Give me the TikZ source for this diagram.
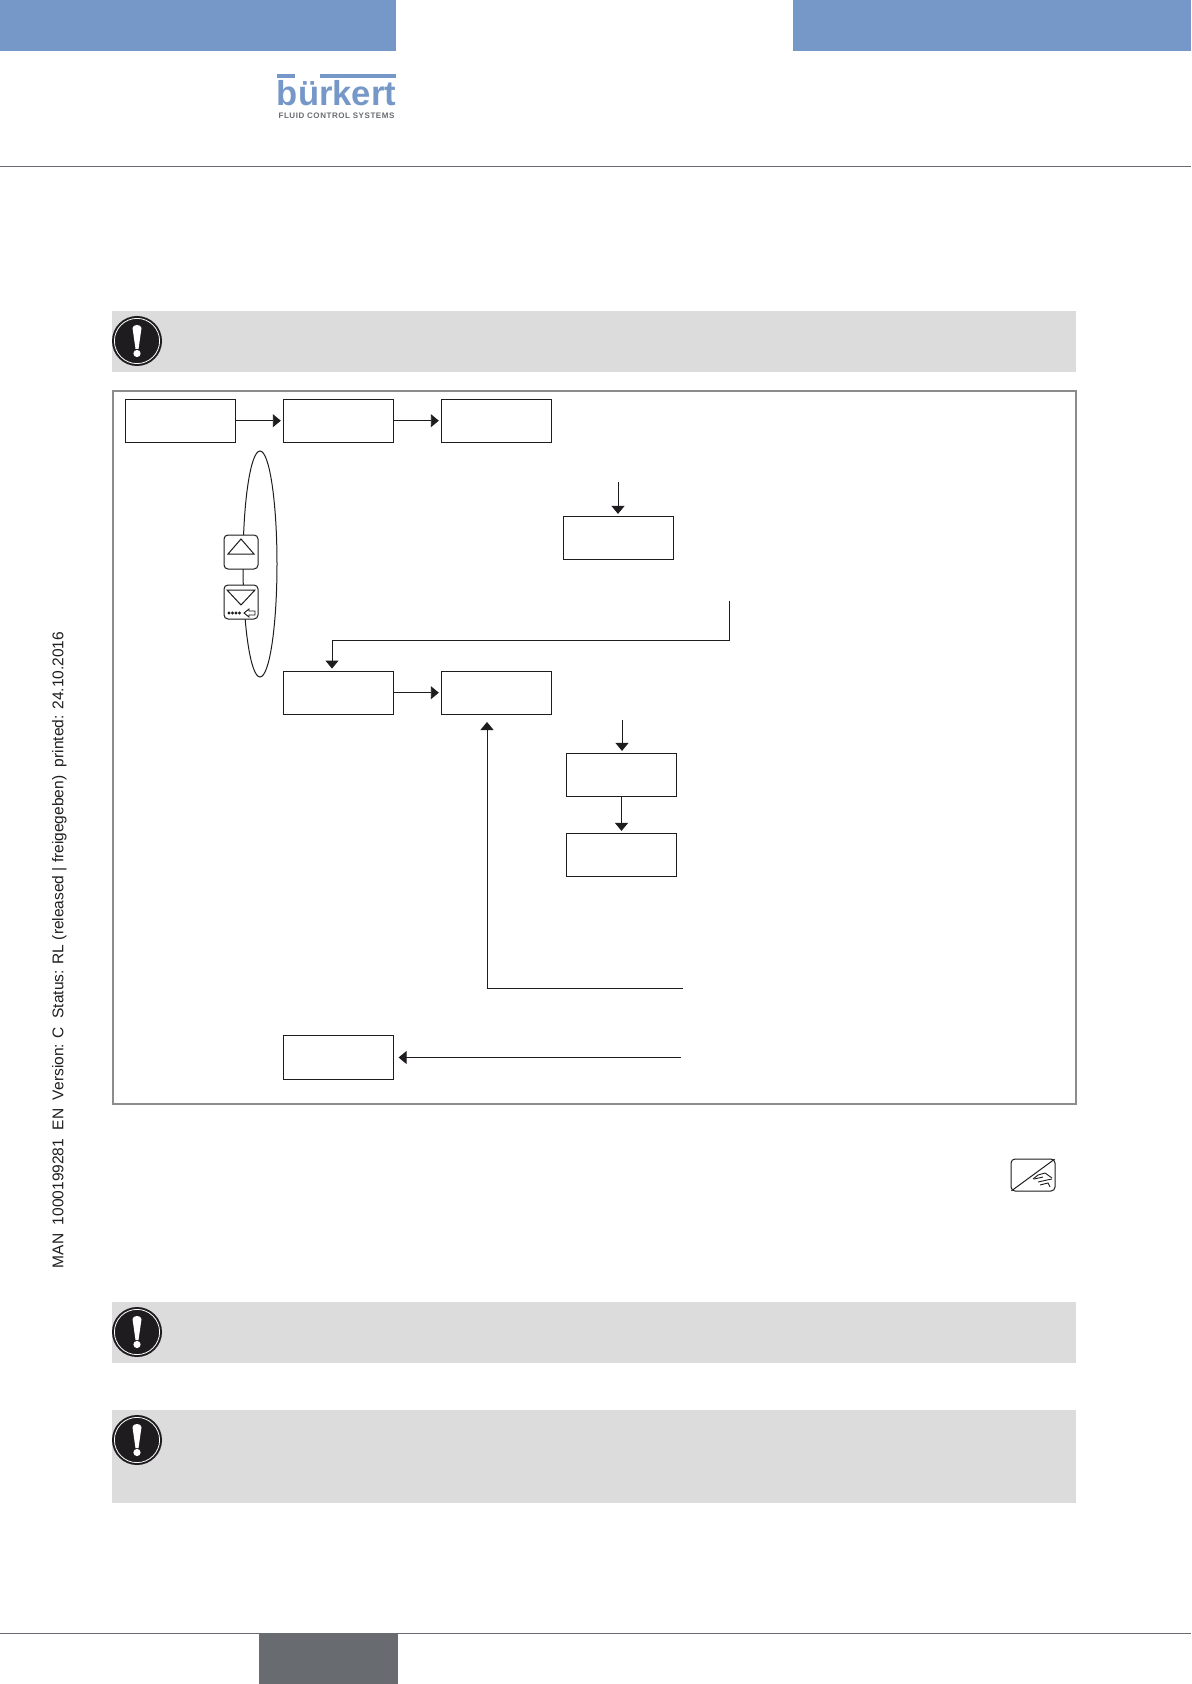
\documentclass[tikz,border=0pt]{standalone}
\usepackage{fontspec}
\setmainfont{Liberation Sans}
\usetikzlibrary{shapes.geometric, arrows.meta, positioning, calc}
\definecolor{Banner}{RGB}{118, 152, 200}
\definecolor{Slate}{RGB}{104, 107, 112}
\definecolor{Notice}{RGB}{220, 220, 220}
\definecolor{Frame}{RGB}{140, 140, 140}
\definecolor{Ink}{RGB}{30, 28, 30}
\tikzstyle{menubox} = [rectangle, minimum width=55pt, minimum height=21.7pt, inner sep=0pt, draw=Ink, fill=white, line width=0.4pt]
\tikzstyle{keybox} = [rectangle, rounded corners=2pt, minimum width=17pt, minimum height=17pt, inner sep=0pt, draw=Ink, fill=white, line width=0.5pt]
\tikzstyle{arrow} = [-{Triangle[length=4pt, width=6.5pt]}, line width=0.45pt, Ink, shorten >=1pt]
\tikzstyle{noticebar} = [fill=Notice, draw=none]

\begin{document}
\begin{tikzpicture}[x=0.5pt, y=-0.5pt, node distance=79pt]
\useasboundingbox (0,0) rectangle (1191,1684);

% Page header and footer
\fill[Banner] (0,0) rectangle (396,51);
\fill[Banner] (793,0) rectangle (1191,51);
\draw[Slate, line width=0.5pt] (0,167) -- (1191,167);
\draw[Slate, line width=0.5pt] (0,1633) -- (1191,1633);
\fill[Slate] (259,1633) rectangle (398,1684);

% Logo
\fill[Banner] (277,74) rectangle (295,78);
\fill[Banner] (320,74) rectangle (396,78);
\node (logoname) [Banner, font=\bfseries\fontsize{17.3}{18}\selectfont, inner sep=0pt, anchor=base] at (336.5,106) {bürkert};
\node (logotag) [Slate, font=\bfseries\fontsize{4}{4.2}\selectfont\addfontfeature{LetterSpace=7}, inner sep=0pt, anchor=base] at (336.5,118.5) {FLUID CONTROL SYSTEMS};

% Margin line
\node (margin) [rotate=90, anchor=center, inner sep=0pt, font=\fontsize{7.76}{9}\selectfont, text=Ink] at (59.5,950) {MAN\ \ 1000199281\ \ EN\ \ Version: C\ \ Status: RL (released | freigegeben)\ \ printed: 24.10.2016};

% Grey notice bars
\fill[noticebar] (112,311) rectangle (1076,372);
\fill[noticebar] (112,1302) rectangle (1076,1363);
\fill[noticebar] (112,1410) rectangle (1076,1503);
\foreach \y in {341,1332,1440} {
    \begin{scope}[shift={(137,\y)}]
        \fill[Ink] (0,0) circle (12.5pt);
        \draw[white, line width=0.4pt] (0,0) circle (11.3pt);
        \fill[white] (-4.5,-13) .. controls (-4,-17) and (4,-17) .. (4.5,-13) -- (1.5,8) -- (-1.5,8) -- cycle;
        \fill[white] (0,12.5) circle (1.8pt);
    \end{scope}
}

% Outer frame
\draw[Frame, line width=1pt] (113,391) rectangle (1076,1104);

% Menu boxes
\node (prog) [menubox] at (180.2,420.7) {};
\node (menu) [menubox, right of=prog] {};
\node (entry) [menubox, right of=menu] {};
\node (param) [menubox] at (618,538) {};
\node (setup) [menubox] at (338.2,692.7) {};
\node (value) [menubox, right of=setup] {};
\node (edit) [menubox] at (621.5,775) {};
\node (save) [menubox, below of=edit, node distance=40pt] {};
\node (quit) [menubox] at (338.2,1057.5) {};

% Keys with ellipse
\node (keyring) [ellipse, draw=Ink, line width=0.5pt, minimum width=17pt, minimum height=113pt, inner sep=0pt] at (260,564) {};
\node (upkey) [keybox] at (241,552) {};
\node (downkey) [keybox] at (241,602) {};
\draw[Ink, line width=0.5pt] (228,554) -- (241,539) -- (254,554) -- cycle;
\draw[Ink, line width=0.5pt] (227,590) -- (241,605) -- (255,590) -- cycle;
\foreach \x in {229,232.5,236,239.5}
    \fill[Ink] (\x,613) circle (0.8pt);
\draw[Ink, line width=0.45pt] (244,613) -- (249,609) -- (249,611) -- (255,611) -- (255,615) -- (249,615) -- (249,617) -- cycle;

% Free ends
\coordinate (paramin) at (618,482);
\coordinate (stepend) at (729,601);
\coordinate (stepbend) at (332,640);
\coordinate (editin) at (622,720);
\coordinate (backend) at (683,988);
\coordinate (backtip) at (487,720);
\coordinate (quitend) at (681,1057.5);

% Arrows
\draw [arrow] (prog) -- (menu);
\draw [arrow] (menu) -- (entry);
\draw [arrow] (paramin) -- (paramin |- param.north);
\draw [arrow] (stepend) |- (stepbend) -- (stepbend |- setup.north);
\draw [arrow] (setup) -- (value);
\draw [arrow] (editin) -- (editin |- edit.north);
\draw [arrow] (edit) -- (save);
\draw [arrow] (backend) -| (backtip);
\draw [arrow, shorten >=2.5pt] (quitend) -- (quit);

% Hand key
\node (handkey) [rectangle, rounded corners=2pt, minimum width=22pt, minimum height=16pt, inner sep=0pt, draw=Ink, line width=0.5pt] at (1033,1175) {};
\draw[Ink, line width=0.5pt, shorten <=0.6pt, shorten >=0.6pt] (handkey.south west) -- (handkey.north east);
\draw[Ink, line width=0.45pt] (1033,1179) -- (1038,1175) -- (1045,1173) -- (1052,1178);
\draw[Ink, line width=0.45pt] (1034,1179) -- (1043,1177);
\draw[Ink, line width=0.45pt] (1038,1182) -- (1047,1180) -- (1052,1179);
\draw[Ink, line width=0.45pt] (1040,1185) -- (1048,1183) -- (1050,1187);

\end{tikzpicture}
\end{document}
